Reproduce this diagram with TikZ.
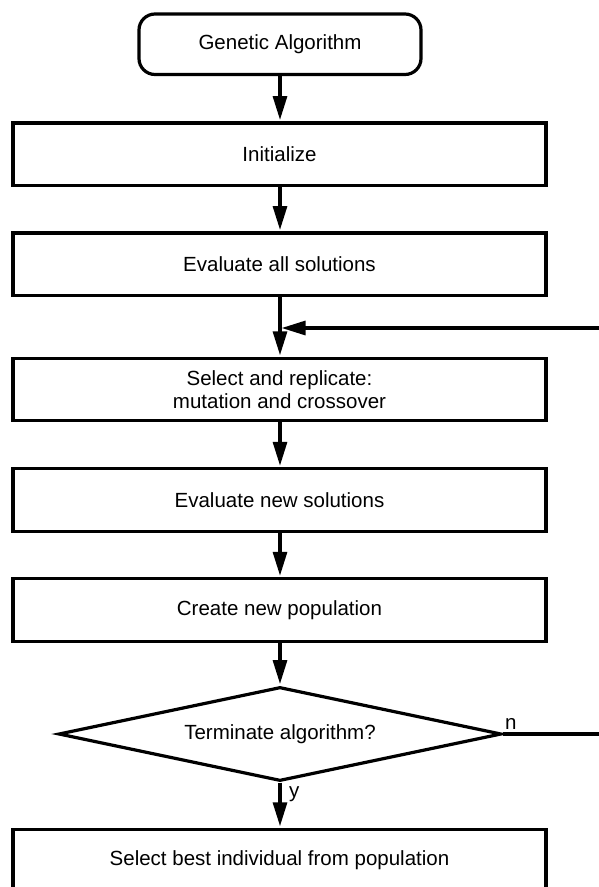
\documentclass[tikz,border=0pt]{standalone}
\usepackage{fontspec}
\setmainfont{Liberation Sans}
\usetikzlibrary{shapes.geometric,arrows.meta}
\begin{document}
\begin{tikzpicture}[x=1pt,y=-1pt,
  txt/.style={font=\fontsize{20.5}{23.5}\selectfont},
  box/.style={draw,line width=3.2pt,minimum width=533pt,minimum height=62.5pt,
    inner sep=0pt,align=center,txt},
  term/.style={box,minimum width=282pt,minimum height=60.5pt,rounded corners=16pt},
  decision/.style={draw,diamond,shape aspect=4.7,line width=3.2pt,minimum width=443pt,
    minimum height=94pt,inner sep=0pt,txt},
  flow/.style={line width=3.2pt,shorten >=1.4pt,-{Triangle[length=24pt,width=14pt]}},
  wire/.style={line width=3.2pt},
  lbl/.style={inner sep=0pt,txt}]
\useasboundingbox (0,0) rectangle (598,887);

% process steps
\node[term] (start) at (280,44.25) {Genetic Algorithm};
\node[box] (init) at (279.5,154.25) {Initialize};
\node[box] (evall) at (279.5,264.25) {Evaluate all solutions};
\node[box] (sel) at (279.5,389.5) {Select and replicate:\\mutation and crossover};
\node[box] (evnew) at (279.5,500) {Evaluate new solutions};
\node[box] (create) at (279.5,610) {Create new population};
\node[decision] (dec) at (280,734) {Terminate algorithm?};
\node[box] (final) at (279.5,860.5) {Select best individual from population};

% loop-back ends at the page edge
\coordinate (ret) at (600,328);
\coordinate (join) at (281.6,328);
\coordinate (exit) at (600,734);

% connectors
\draw[flow] (start.south -| 280,0) -- (init.north -| 280,0);
\draw[flow] (init.south -| 280,0) -- (evall.north -| 280,0);
\draw[flow] (evall.south -| 280,0) -- (sel.north -| 280,0);
\draw[flow,shorten >=0pt] (ret) -- (join);
\draw[flow] (sel.south -| 280,0) -- (evnew.north -| 280,0);
\draw[flow] (evnew.south -| 280,0) -- (create.north -| 280,0);
\draw[flow] (create.south -| dec.north) -- (dec.north);
\draw[flow] (dec.south) -- (final.north -| dec.south);
\draw[wire] (dec.east) -- (exit);

% branch labels
\node[lbl,anchor=base west] (nlab) at (505,729) {n};
\node[lbl,anchor=base west] (ylab) at (289,797) {y};
\end{tikzpicture}
\end{document}
